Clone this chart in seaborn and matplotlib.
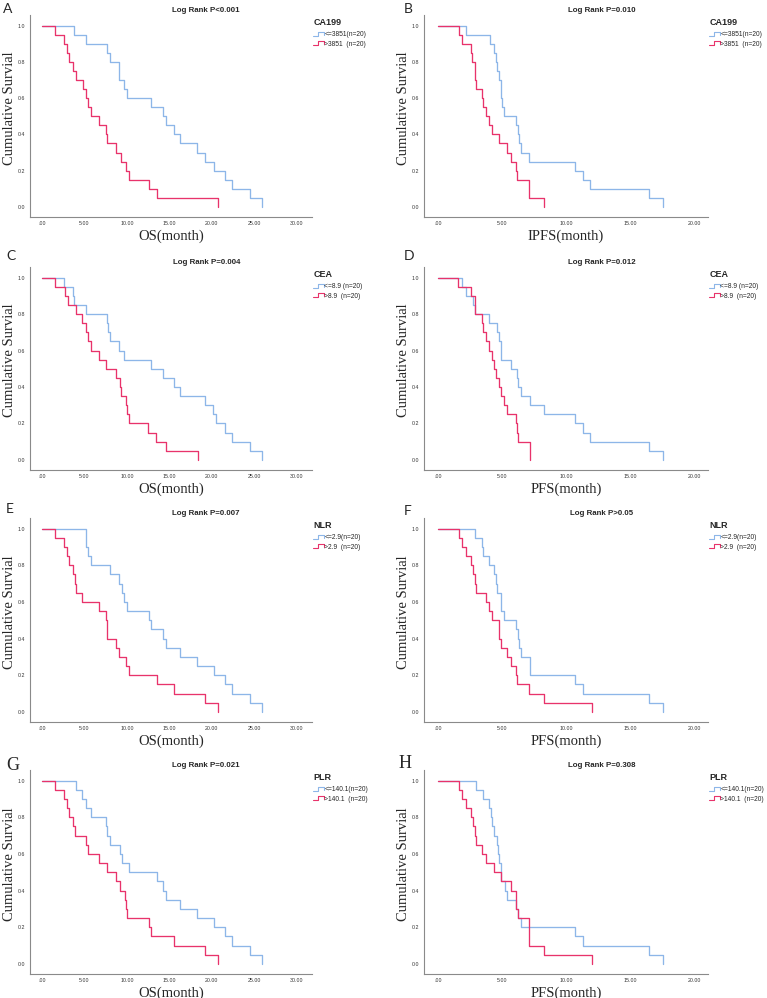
import numpy as np
import pandas as pd
import matplotlib
matplotlib.use("Agg")
import matplotlib.pyplot as plt
import seaborn as sns
from matplotlib.legend_handler import HandlerBase
from matplotlib.lines import Line2D

# Kaplan-Meier steps: time (months) where survival drops, survival after the drop
# A: OS by CA199
a_low_t = [0, 3.8, 5.2, 7.65, 8.0, 9.1, 9.7, 10.0, 12.9, 14.3, 14.6, 15.6, 16.3, 18.3, 19.2, 20.3, 21.6, 22.4, 24.5, 25.9]
a_low_s = [1.0, .95, .90, .85, .80, .70, .65, .60, .55, .50, .45, .40, .35, .30, .25, .20, .15, .10, .05, 0.0]
a_high_t = [0, 1.57, 2.6, 2.95, 3.2, 3.7, 4.0, 4.8, 5.2, 5.4, 5.8, 6.75, 7.5, 7.7, 8.7, 9.3, 9.9, 10.3, 12.6, 13.5, 20.7]
a_high_s = [1.0, .95, .90, .85, .80, .75, .70, .65, .60, .55, .50, .45, .40, .35, .30, .25, .20, .15, .10, .05, 0.0]

# B: PFS by CA199
b_low_t = [0, 2.16, 4.04, 4.4, 4.5, 4.6, 4.75, 4.9, 5.0, 5.15, 6.1, 6.25, 6.35, 6.5, 7.1, 10.7, 11.3, 11.9, 16.5, 17.6]
b_low_s = [1.0, .95, .90, .85, .80, .75, .70, .60, .55, .50, .45, .40, .35, .30, .25, .20, .15, .10, .05, 0.0]
b_high_t = [0, 1.64, 1.9, 2.6, 2.68, 2.86, 2.96, 3.4, 3.5, 3.75, 4.0, 4.2, 4.77, 5.4, 5.7, 6.1, 6.2, 7.1, 8.3]
b_high_s = [1.0, .95, .90, .85, .80, .70, .65, .60, .55, .50, .45, .40, .35, .30, .25, .20, .15, .05, 0.0]

# C: OS by CEA
c_low_t = [0, 2.6, 3.65, 3.8, 5.2, 7.65, 7.75, 8.0, 9.1, 9.7, 12.9, 14.3, 15.6, 16.3, 19.2, 20.2, 20.5, 21.6, 22.4, 24.5, 25.9]
c_low_s = [1.0, .95, .90, .85, .80, .75, .70, .65, .60, .55, .50, .45, .40, .35, .30, .25, .20, .15, .10, .05, 0.0]
c_high_t = [0, 1.57, 2.75, 3.1, 4.0, 4.7, 5.2, 5.4, 5.8, 6.75, 7.5, 8.7, 9.15, 9.35, 9.9, 10.0, 10.2, 12.5, 13.45, 14.6, 18.35]
c_high_s = [1.0, .95, .90, .85, .80, .75, .70, .65, .60, .55, .50, .45, .40, .35, .30, .25, .20, .15, .10, .05, 0.0]

# D: PFS by CEA
d_low_t = [0, 1.9, 2.16, 2.76, 2.86, 3.98, 4.6, 4.77, 4.9, 4.95, 5.7, 6.15, 6.25, 6.46, 7.16, 8.3, 10.7, 11.3, 11.9, 16.5, 17.6]
d_low_s = [1.0, .95, .90, .85, .80, .75, .70, .65, .60, .55, .50, .45, .40, .35, .30, .25, .20, .15, .10, .05, 0.0]
d_high_t = [0, 1.56, 2.6, 2.86, 3.4, 3.5, 3.75, 4.0, 4.25, 4.4, 4.5, 4.77, 4.95, 5.15, 5.36, 6.1, 6.17, 6.25, 7.16]
d_high_s = [1.0, .95, .90, .80, .75, .70, .65, .60, .55, .50, .45, .40, .35, .30, .25, .20, .15, .10, 0.0]

# E: OS by NLR
e_low_t = [0, 5.2, 5.4, 5.8, 8.0, 9.1, 9.4, 9.7, 10.0, 12.6, 12.9, 14.3, 14.6, 16.3, 18.3, 20.3, 21.6, 22.4, 24.5, 25.9]
e_low_s = [1.0, .90, .85, .80, .75, .70, .65, .60, .55, .50, .45, .40, .35, .30, .25, .20, .15, .10, .05, 0.0]
e_high_t = [0, 1.57, 2.6, 2.95, 3.2, 3.7, 3.9, 4.0, 4.7, 6.75, 7.5, 7.65, 7.7, 8.7, 9.1, 9.9, 10.2, 13.5, 15.6, 19.2, 20.7]
e_high_s = [1.0, .95, .90, .85, .80, .75, .70, .65, .60, .55, .50, .45, .40, .35, .30, .25, .20, .15, .10, .05, 0.0]

# F: PFS by NLR
f_low_t = [0, 2.86, 3.4, 3.5, 4.0, 4.4, 4.5, 4.6, 4.9, 4.95, 5.15, 6.1, 6.25, 6.35, 6.5, 7.16, 10.7, 11.3, 16.5, 17.6]
f_low_s = [1.0, .95, .90, .85, .80, .75, .70, .65, .60, .55, .50, .45, .40, .35, .30, .20, .15, .10, .05, 0.0]
f_high_t = [0, 1.64, 1.9, 2.16, 2.6, 2.7, 2.86, 2.96, 3.75, 4.0, 4.25, 4.77, 4.9, 5.36, 5.7, 6.1, 6.2, 7.1, 8.3, 12.0]
f_high_s = [1.0, .95, .90, .85, .80, .75, .70, .65, .60, .55, .50, .40, .35, .30, .25, .20, .15, .10, .05, 0.0]

# G: OS by PLR
g_low_t = [0, 4.0, 4.7, 5.2, 5.8, 7.5, 7.7, 8.0, 9.15, 9.4, 10.2, 13.5, 14.3, 14.6, 16.3, 18.3, 20.3, 21.6, 22.4, 24.5, 25.9]
g_low_s = [1.0, .95, .90, .85, .80, .75, .70, .65, .60, .55, .50, .45, .40, .35, .30, .25, .20, .15, .10, .05, 0.0]
g_high_t = [0, 1.57, 2.6, 2.95, 3.2, 3.7, 3.9, 5.2, 5.4, 6.75, 7.7, 8.7, 9.15, 9.75, 9.9, 10.05, 12.6, 12.9, 15.6, 19.2, 20.7]
g_high_s = [1.0, .95, .90, .85, .80, .75, .70, .65, .60, .55, .50, .45, .40, .35, .30, .25, .20, .15, .10, .05, 0.0]

# H: PFS by PLR
h_low_t = [0, 2.97, 3.5, 4.0, 4.1, 4.25, 4.4, 4.6, 4.7, 4.77, 4.95, 5.2, 5.36, 6.1, 6.25, 6.5, 10.7, 11.3, 16.5, 17.6]
h_low_s = [1.0, .95, .90, .85, .80, .75, .70, .65, .60, .55, .45, .40, .35, .30, .25, .20, .15, .10, .05, 0.0]
h_high_t = [0, 1.64, 1.9, 2.16, 2.6, 2.7, 2.86, 2.96, 3.4, 3.75, 4.4, 4.9, 5.7, 6.1, 6.25, 7.1, 8.3, 12.0]
h_high_s = [1.0, .95, .90, .85, .80, .75, .70, .65, .60, .55, .50, .45, .40, .30, .25, .10, .05, 0.0]

ca199_labels = ["<=3851(n=20)", ">3851  (n=20)"]
cea_labels = ["<=8.9 (n=20)", ">8.9  (n=20)"]
nlr_labels = ["<=2.9(n=20)", ">2.9  (n=20)"]
plr_labels = ["<=140.1(n=20)", ">140.1  (n=20)"]

os_ticks = [0, 5, 10, 15, 20, 25, 30]
os_tick_labels = [".00", "5.00", "10.00", "15.00", "20.00", "25.00", "30.00"]
pfs_ticks = [0, 5, 10, 15, 20]
pfs_tick_labels = [".00", "5.00", "10.00", "15.00", "20.00"]
y_ticks = [0.0, 0.2, 0.4, 0.6, 0.8, 1.0]
y_tick_labels = ["0.0", "0.2", "0.4", "0.6", "0.8", "1.0"]

panels = [
    ("A", "Log Rank P<0.001", "CA199", ca199_labels, "OS(month)", a_low_t, a_low_s, a_high_t, a_high_s),
    ("B", "Log Rank P=0.010", "CA199", ca199_labels, "IPFS(month)", b_low_t, b_low_s, b_high_t, b_high_s),
    ("C", "Log Rank P=0.004", "CEA", cea_labels, "OS(month)", c_low_t, c_low_s, c_high_t, c_high_s),
    ("D", "Log Rank P=0.012", "CEA", cea_labels, "PFS(month)", d_low_t, d_low_s, d_high_t, d_high_s),
    ("E", "Log Rank P=0.007", "NLR", nlr_labels, "OS(month)", e_low_t, e_low_s, e_high_t, e_high_s),
    ("F", "Log Rank P>0.05", "NLR", nlr_labels, "PFS(month)", f_low_t, f_low_s, f_high_t, f_high_s),
    ("G", "Log Rank P=0.021", "PLR", plr_labels, "OS(month)", g_low_t, g_low_s, g_high_t, g_high_s),
    ("H", "Log Rank P=0.308", "PLR", plr_labels, "PFS(month)", h_low_t, h_low_s, h_high_t, h_high_s),
]

sns.set_style("white")
plt.rcParams["font.family"] = ["Liberation Sans", "DejaVu Sans"]

blue = "#8db6e8"
red = "#e8336b"


class StepHandler(HandlerBase):
    # the little step-shaped legend key SPSS draws
    def create_artists(self, legend, orig_handle, xdescent, ydescent, width, height, fontsize, trans):
        xs = np.array([0.0, 0.45, 0.45, 1.0, 1.0]) * width - xdescent
        ys = np.array([0.15, 0.15, 0.95, 0.95, 0.35]) * height - ydescent
        line = Line2D(xs, ys, color=orig_handle.get_color(), lw=0.8, transform=trans)
        return [line]


W, H = 767, 998
fig = plt.figure(figsize=(W / 100, H / 100), dpi=100)

rows = [(15, 217), (267, 470), (518, 722), (770, 974)]
cols = [(30, 312, -1.4, 31.8), (424, 708, -1.1, 21.1)]
letter_pos = [(3, 3), (404, 3), (6, 250), (404, 250), (6, 503), (404, 505), (6, 757), (399, 755)]

for i, (letter, title, leg_title, labels, xlabel, lt, ls, ht, hs) in enumerate(panels):
    r, c = divmod(i, 2)
    top, bot = rows[r]
    left, right, x0, x1 = cols[c]
    ax = fig.add_axes([left / W, 1 - bot / H, (right - left) / W, (bot - top) / H])

    sns.lineplot(x=lt, y=ls, drawstyle="steps-post", estimator=None, sort=False,
                 color=blue, lw=0.95, ax=ax)
    sns.lineplot(x=ht, y=hs, drawstyle="steps-post", estimator=None, sort=False,
                 color=red, lw=0.95, ax=ax)

    ax.set_xlim(x0, x1)
    ax.set_ylim(-0.055, 1.058)
    if c == 0:
        ax.set_xticks(os_ticks)
        ax.set_xticklabels(os_tick_labels)
    else:
        ax.set_xticks(pfs_ticks)
        ax.set_xticklabels(pfs_tick_labels)
    ax.set_yticks(y_ticks)
    ax.set_yticklabels(y_tick_labels)
    ax.tick_params(length=0, labelsize=3.8, labelcolor="#333333")
    ax.tick_params(axis="y", pad=3.5)
    ax.tick_params(axis="x", pad=3)

    sns.despine(ax=ax)
    for side in ["left", "bottom"]:
        ax.spines[side].set_color("#8a8a8a")
        ax.spines[side].set_linewidth(0.8)

    ax.set_title(title, fontsize=5.7, fontweight="bold", x=0.625, pad=2)

    ax.set_xlabel(xlabel, family=["Liberation Serif", "DejaVu Serif"], fontsize=10.5)
    ax.xaxis.set_label_coords(0.5, -0.06)
    ax.set_ylabel("Cumulative Survial", family=["Liberation Serif", "DejaVu Serif"], fontsize=10.5)
    ax.yaxis.set_label_coords(-0.05, 0.54)

    handles = [Line2D([], [], color=blue), Line2D([], [], color=red)]
    leg = ax.legend(handles, labels, title=leg_title, loc="upper left",
                    bbox_to_anchor=(1.004, 0.985), frameon=False, fontsize=4.8,
                    title_fontproperties={"size": 6.5, "weight": "bold"},
                    alignment="left", borderpad=0, borderaxespad=0,
                    handlelength=1.6, handleheight=0.8, handletextpad=0.1,
                    labelspacing=0.35, handler_map={Line2D: StepHandler()})
    leg._legend_box.sep = 3

    lx, ly = letter_pos[i]
    if letter in ("G", "H"):
        fig.text(lx / W, 1 - ly / H, letter, ha="left", va="top", fontsize=13,
                 family=["Liberation Serif", "DejaVu Serif"])
    else:
        fig.text(lx / W, 1 - ly / H, letter, ha="left", va="top", fontsize=10,
                 family=["Lato", "DejaVu Sans"])

fig.savefig("out.png", dpi=100, facecolor="white")
